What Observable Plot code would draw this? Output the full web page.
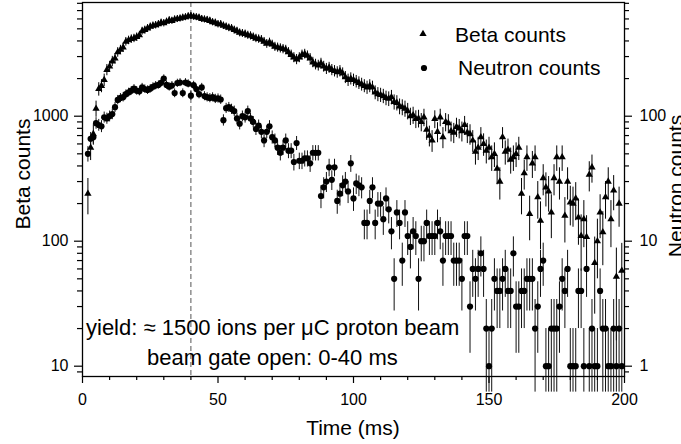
<!DOCTYPE html>
<html><head><meta charset="utf-8">
<script src="https://cdn.jsdelivr.net/npm/d3@7"></script>
<script src="https://cdn.jsdelivr.net/npm/@observablehq/plot@0.6"></script>
<style>body{margin:0;background:#fff} svg{display:block}</style>
</head><body><div id="chart"></div>
<script>
// time bins (ms)
const timeMs = [2,3,4,5,6,7,8,9,10,11,12,13,14,15,16,17,18,19,20,21,22,23,24,25,26,27,28,29,30,31,32,33,34,35,36,37,38,39,40,41,42,43,44,45,46,47,48,49,50,51,52,53,54,55,56,57,58,59,60,61,62,63,64,65,66,67,68,69,70,71,72,73,74,75,76,77,78,79,80,81,82,83,84,85,86,87,88,89,90,91,92,93,94,95,96,97,98,99,100,101,102,103,104,105,106,107,108,109,110,111,112,113,114,115,116,117,118,119,120,121,122,123,124,125,126,127,128,129,130,131,132,133,134,135,136,137,138,139,140,141,142,143,144,145,146,147,148,149,150,151,152,153,154,155,156,157,158,159,160,161,162,163,164,165,166,167,168,169,170,171,172,173,174,175,176,177,178,179,180,181,182,183,184,185,186,187,188,189,190,191,192,193,194,195,196,197,198,199];
// beta counts per bin (left axis)
const betaCounts = [
240,560,720,1150,1650,1750,1950,2350,2500,2750,
2900,3250,3400,3550,3950,4050,4150,4200,4300,4450,
4800,4900,5050,5200,5300,5350,5450,5600,5550,5700,
5850,5800,5950,6000,6050,6150,6200,6300,6350,6250,
6200,6150,6000,5950,5900,5800,5650,5600,5450,5450,
5300,5200,5100,5050,4900,4800,4650,4600,4550,4450,
4400,4300,4200,4150,4100,3950,3800,3900,3750,3600,
3550,3500,3450,3400,3250,3100,2950,2850,2950,3100,
3150,3050,2900,2700,2600,2550,2650,2500,2400,2450,
2350,2300,2250,2300,2200,2050,1950,2000,1950,1900,
1850,1800,1750,1700,1750,1700,1550,1500,1480,1450,
1400,1380,1420,1300,1280,1200,1180,1150,1100,1000,
1020,950,960,900,980,780,700,640,950,750,
980,680,900,880,760,740,820,800,760,850,
740,720,640,520,560,680,600,530,560,470,
500,380,300,680,520,540,450,470,500,560,
240,350,470,165,420,470,225,146,320,270,
250,170,320,470,300,470,160,300,204,200,
220,155,110,150,108,340,390,67,100,170,
118,225,300,150,255,52,200,58];
// neutron counts per bin (right axis)
const neutronCounts = [
50,66,68,88,85,83,98,96,100,104,
118,135,140,142,150,155,160,166,160,158,
170,165,162,166,172,176,178,185,200,178,
172,176,153,184,186,153,186,182,146,177,
165,150,170,145,142,140,142,138,139,136,
93,116,118,114,110,96,87,100,98,110,
96,90,79,84,75,64,75,83,68,64,
56,51,56,64,53,53,43,61,44,44,
46,46,42,51,51,51,23,27,30,39,
31,39,21,24,28,30,25,42,22,29,
28,27,14,14,21,27,14,20,20,15,
22,18,12,5,17,14,7,17,11,9,
12,11,5,10,10,14,11,11,11,14,
12,7,11,11,11,7,7,7,5,11,
11,3,6,5,6,8,6,2,1,2,
5,4,4,5,6,4,4,8,3,3,
4,4,5,5,5,2,3,6,7,1,
1,2,2,2,3,5,4,6,1,1,
1,4,4,1,6,1,2,1,1,4,
2,2,1,1,2,1,2,1];
const beamGateEnd = 40;
const leftMajor = [10, 100, 1000];
const leftMinor = [9,20,30,40,50,60,70,80,90,200,300,400,500,600,700,800,900,2000,3000,4000,5000,6000,7000,8000];
const xMajor = [0, 50, 100, 150, 200];
const xMinor = [10,20,30,40,60,70,80,90,110,120,130,140,160,170,180,190];
const neutronFactor = 10;     // right axis = left axis / 10
const betaScale = 25;         // counts per raw count (for Poisson error)

const betaRows = timeMs.map((t, i) => {
  const v = betaCounts[i], e = Math.sqrt(betaScale * v);
  return {t, v, lo: Math.max(v - e, 1), hi: v + e};
});
const neutronRows = timeMs.map((t, i) => {
  const n = neutronCounts[i], e = Math.sqrt(n);
  return {t, v: n * neutronFactor, lo: Math.max(n - e, 0.62) * neutronFactor, hi: (n + e) * neutronFactor};
});

const W = 681, H = 444;
const chart = Plot.plot({
  width: W, height: H,
  marginLeft: 82, marginRight: 57, marginTop: 2, marginBottom: 68,
  style: {fontFamily: "'Liberation Sans', Arial, sans-serif", fontSize: "16px", background: "white", color: "black"},
  x: {domain: [0, 200]},
  y: {type: "log", domain: [8.27, 8122]},
  marks: [
    Plot.ruleX([beamGateEnd], {stroke: "#555", strokeDasharray: "5,3", strokeWidth: 1}),
    Plot.ruleX(betaRows, {x: "t", y1: "lo", y2: "hi", stroke: "black", strokeWidth: 1}),
    Plot.ruleX(neutronRows, {x: "t", y1: "lo", y2: "hi", stroke: "#111", strokeWidth: 1}),
    Plot.dot(betaRows, {x: "t", y: "v", symbol: "triangle", r: 2.7, fill: "black", stroke: "none"}),
    Plot.dot(neutronRows, {x: "t", y: "v", symbol: "circle", r: 3.1, fill: "black", stroke: "none"}),
    Plot.frame({stroke: "black", strokeWidth: 1.3}),
    Plot.axisX(xMajor, {tickSize: 7, tickPadding: 10, label: null, tickFormat: d => String(d), strokeWidth: 1.2}),
    Plot.axisX(xMinor, {tickSize: 4, label: null, tickFormat: () => "", strokeWidth: 1.2}),
    Plot.axisY(leftMajor, {anchor: "left", tickSize: 8, tickPadding: 6, label: null, tickFormat: d => String(d), strokeWidth: 1.2}),
    Plot.axisY(leftMinor, {anchor: "left", tickSize: 5, label: null, tickFormat: () => "", strokeWidth: 1.2}),
    Plot.axisY(leftMajor, {anchor: "right", tickSize: 7, tickPadding: 8, label: null, tickFormat: d => String(d / neutronFactor), strokeWidth: 1.2}),
    Plot.axisY(leftMinor, {anchor: "right", tickSize: 4, label: null, tickFormat: () => "", strokeWidth: 1.2})
  ]
});
document.getElementById("chart").append(chart);

const svg = d3.select(chart);
const font = "'Liberation Sans', Arial, sans-serif";
function txt(x, y, s, size, opts = {}) {
  const t = svg.append("text").attr("x", x).attr("y", y).text(s)
    .attr("font-family", font).attr("font-size", size).attr("fill", "black")
    .attr("text-anchor", opts.anchor || "start");
  if (opts.rotate) t.attr("transform", `rotate(-90 ${x} ${y})`);
  return t;
}
// axis titles
txt(353, 435, "Time (ms)", 21, {anchor: "middle"});
txt(30, 174, "Beta counts", 21, {anchor: "middle", rotate: true});
txt(683, 186, "Neutron counts", 21, {anchor: "middle", rotate: true});
// legend
svg.append("path").attr("d", d3.symbol(d3.symbolTriangle, Math.PI * 2.7 * 2.7)()).attr("transform", "translate(423,34)").attr("fill", "black");
svg.append("path").attr("d", d3.symbol(d3.symbolCircle, Math.PI * 3.1 * 3.1)()).attr("transform", "translate(424,68)").attr("fill", "black");
txt(455, 42, "Beta counts", 21);
txt(458, 75, "Neutron counts", 21);
// annotation
txt(86, 335, "yield: \u2248 1500 ions per \u03bcC proton beam", 22);
txt(147, 365, "beam gate open: 0-40 ms", 22);
</script>
</body></html>
